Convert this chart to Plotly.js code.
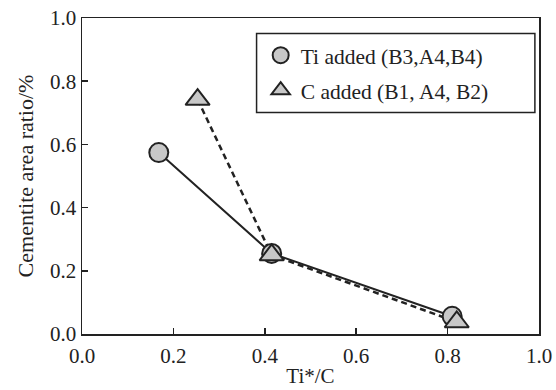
<!DOCTYPE html>
<html><head><meta charset="utf-8">
<script src="https://cdn.plot.ly/plotly-3.0.1.min.js"></script>
<style>body{margin:0;padding:0;background:#fff}#chart{width:556px;height:390px}</style>
</head><body><div id="chart"></div>
<script>
const tiX = [0.168, 0.415, 0.810];
const tiY = [0.574, 0.255, 0.056];
const cX = [0.253, 0.415, 0.820];
const cY = [0.742, 0.250, 0.038];
const tickVals = [0, 0.2, 0.4, 0.6, 0.8, 1.0];
const tickText = ['0.0', '0.2', '0.4', '0.6', '0.8', '1.0'];
const nameTi = 'Ti added (B3,A4,B4)';
const nameC = 'C added (B1, A4, B2)';

const F = 'Liberation Serif, serif';
const K = '#222';
const mk = {color: '#c8c8c8', size: 19, line: {color: K, width: 2}};
const traces = [
  {x: tiX, y: tiY, mode: 'lines', line: {color: K, width: 2}, showlegend: false, hoverinfo: 'skip'},
  {x: cX, y: cY, mode: 'lines', line: {color: K, width: 2.5, dash: '6px,4px'}, showlegend: false, hoverinfo: 'skip'},
  {x: tiX, y: tiY, mode: 'markers', name: nameTi, legendgroup: 'a', marker: Object.assign({}, mk, {symbol: 'circle'})},
  {x: cX, y: cY, mode: 'markers', name: nameC, legendgroup: 'b', marker: Object.assign({}, mk, {symbol: 'triangle-up', size: 21})}
];
const axBase = {
  range: [0, 1], tickvals: tickVals, ticktext: tickText, ticks: 'inside', ticklen: 6, tickwidth: 1.5,
  tickcolor: K, showline: true, linecolor: K, linewidth: 1.5, mirror: true,
  showgrid: false, zeroline: false, tickfont: {family: F, size: 21, color: K}
};
const layout = {
  width: 556, height: 390,
  margin: {l: 82, r: 17, t: 18, b: 56},
  paper_bgcolor: '#fff', plot_bgcolor: '#fff',
  font: {family: F, color: K},
  xaxis: Object.assign({}, axBase, {ticklabelstandoff: 2, title: {text: 'Ti*/C', font: {family: F, size: 21, color: K}, standoff: 1}}),
  yaxis: Object.assign({}, axBase, {title: {text: 'Cementite area ratio/%', font: {family: F, size: 22, color: K}, standoff: 10}}),
  legend: {x: 0.391, y: 0.947, xanchor: 'left', yanchor: 'top', bgcolor: 'rgba(0,0,0,0)', borderwidth: 0,
    font: {family: F, size: 21.5, color: K}, traceorder: 'grouped', tracegroupgap: 4, itemwidth: 30},
  shapes: [{type: 'rect', xref: 'paper', yref: 'paper', x0: 0.382, x1: 0.991, y0: 0.701, y1: 0.951,
    line: {color: K, width: 1.5}, fillcolor: 'rgba(0,0,0,0)', layer: 'below'}],
  showlegend: true
};
Plotly.newPlot('chart', traces, layout, {staticPlot: true});
</script></body></html>
